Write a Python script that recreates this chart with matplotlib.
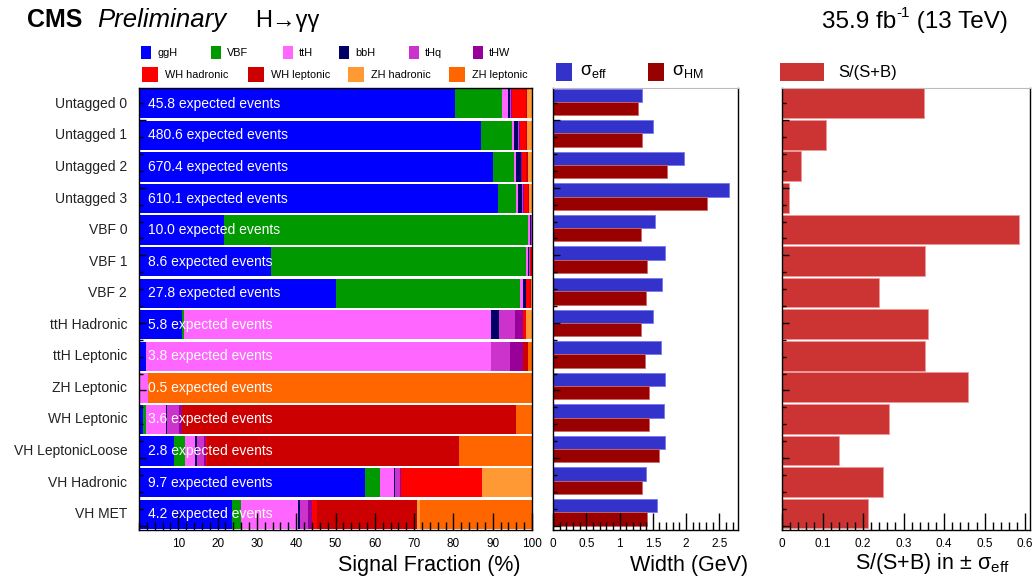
import numpy as np
import matplotlib.pyplot as plt
from matplotlib.patches import Rectangle

plt.rcParams['font.family'] = ['Liberation Sans', 'DejaVu Sans']
plt.rcParams['mathtext.fontset'] = 'custom'
plt.rcParams['mathtext.rm'] = 'Liberation Sans'
plt.rcParams['mathtext.it'] = 'Liberation Sans:italic'

categories = ['Untagged 0', 'Untagged 1', 'Untagged 2', 'Untagged 3',
              'VBF 0', 'VBF 1', 'VBF 2', 'ttH Hadronic', 'ttH Leptonic',
              'ZH Leptonic', 'WH Leptonic', 'VH LeptonicLoose', 'VH Hadronic', 'VH MET']
expected_events = ['45.8', '480.6', '670.4', '610.1', '10.0', '8.6', '27.8',
                   '5.8', '3.8', '0.5', '3.6', '2.8', '9.7', '4.2']

processes = ['ggH', 'VBF', 'ttH', 'bbH', 'tHq', 'tHW',
             'WH hadronic', 'WH leptonic', 'ZH hadronic', 'ZH leptonic']
proc_colors = ['#0000ff', '#009900', '#ff66ff', '#000066', '#cc33cc', '#990099',
               '#ff0000', '#cc0000', '#ff9933', '#ff6600']

# signal fraction (%) per process, one entry per category
ggH  = [80.4, 87.0, 90.1, 91.3, 21.6, 33.6, 50.1, 10.9, 1.7, 0.0, 0.9, 9.0, 57.5, 23.6]
vbf  = [11.9, 7.9, 5.3, 4.6, 77.5, 64.9, 46.9, 0.6, 0.0, 0.0, 0.8, 2.7, 3.7, 2.4]
ttH  = [1.7, 0.5, 0.6, 0.5, 0.3, 0.4, 0.7, 78.0, 87.9, 2.4, 5.2, 2.6, 3.7, 14.5]
bbH  = [0.4, 1.1, 1.1, 1.1, 0.3, 0.4, 0.7, 2.1, 0.0, 0.0, 0.3, 0.4, 0.2, 0.5]
tHq  = [0.3, 0.3, 0.2, 0.2, 0.2, 0.1, 0.1, 4.1, 4.9, 0.0, 3.0, 1.8, 1.3, 2.1]
tHW  = [0.3, 0.2, 0.2, 0.2, 0.1, 0.1, 0.1, 2.1, 3.1, 0.0, 0.8, 0.5, 0.3, 1.0]
wh_h = [3.4, 1.5, 1.1, 1.0, 0.1, 0.3, 0.9, 0.7, 0.0, 0.0, 0.0, 0.3, 20.7, 1.3]
wh_l = [0.3, 0.3, 0.5, 0.4, 0.0, 0.1, 0.2, 0.0, 1.5, 0.0, 84.9, 64.0, 0.0, 25.3]
zh_h = [1.2, 1.1, 0.8, 0.6, 0.1, 0.1, 0.3, 1.5, 0.0, 0.0, 0.0, 0.0, 12.3, 0.8]
zh_l = [0.1, 0.1, 0.1, 0.1, 0.0, 0.0, 0.0, 0.0, 0.9, 97.6, 4.1, 18.7, 0.3, 28.5]
fractions = [ggH, vbf, ttH, bbH, tHq, tHW, wh_h, wh_l, zh_h, zh_l]

# mass resolution (GeV)
sigma_eff = [1.34, 1.50, 1.97, 2.65, 1.54, 1.68, 1.64, 1.50, 1.63, 1.68, 1.67, 1.69, 1.40, 1.57]
sigma_hm  = [1.27, 1.34, 1.71, 2.31, 1.32, 1.41, 1.39, 1.32, 1.38, 1.45, 1.45, 1.59, 1.33, 1.41]

# S/(S+B) within +-sigma_eff
s_over_sb = [0.351, 0.109, 0.048, 0.018, 0.585, 0.354, 0.239, 0.360, 0.352,
             0.460, 0.265, 0.140, 0.250, 0.212]

W, H = 1035, 580
fx = lambda x: x / W
fy = lambda y: 1 - y / H

fig = plt.figure(figsize=(W / 100, H / 100), dpi=100)
bottom, height = fy(530), 442 / H
ax1 = fig.add_axes([fx(139), bottom, 393 / W, height])
ax2 = fig.add_axes([fx(553), bottom, 185 / W, height])
ax3 = fig.add_axes([fx(782), bottom, 248 / W, height])

y = np.arange(len(categories))

# stacked signal composition
left = np.zeros(len(categories))
for vals, col in zip(fractions, proc_colors):
    vals = np.array(vals)
    ax1.barh(y + 0.5, vals, left=left, height=0.93, color=col, linewidth=0)
    left += vals
for i, ev in enumerate(expected_events):
    ax1.text(2.2, i + 0.5, ev + ' expected events', color='white',
             va='center', ha='left', fontsize=10)
ax1.set_xlim(0, 100)
ax1.set_xticks(np.arange(10, 101, 10))
ax1.set_xticks(np.arange(0, 101, 2), minor=True)

# widths
ax2.barh(y + 0.23, sigma_eff, height=0.42, color='#3333cc', edgecolor='#7777ee', linewidth=0.6)
ax2.barh(y + 0.65, sigma_hm, height=0.42, color='#990000', edgecolor='#cc6666', linewidth=0.6)
ax2.set_xlim(0, 2.78)
ax2.set_xticks(np.arange(0, 2.6, 0.5))
ax2.set_xticklabels(['0', '0.5', '1', '1.5', '2', '2.5'])
ax2.set_xticks(np.arange(0, 2.78, 0.1), minor=True)

# S/(S+B)
ax3.barh(y + 0.48, s_over_sb, height=0.94, color='#cc3333', edgecolor='#ee9999', linewidth=0.6)
ax3.set_xlim(0, 0.612)
ax3.set_xticks(np.arange(0, 0.61, 0.1))
ax3.set_xticklabels(['0', '0.1', '0.2', '0.3', '0.4', '0.5', '0.6'])
ax3.set_xticks(np.arange(0, 0.612, 0.02), minor=True)

ytick_minor = np.arange(0.485, 14, 0.535)
for ax in (ax1, ax2, ax3):
    ax.set_ylim(14, 0)
    ax.set_yticks(ytick_minor[1::4])
    ax.set_yticks(ytick_minor, minor=True)
    ax.set_yticklabels([])
    ax.tick_params(axis='x', which='major', direction='in', length=12, width=1,
                   labelsize=8.5, pad=6, top=False)
    ax.tick_params(axis='x', which='minor', direction='in', length=6, width=1, top=False)
    ax.tick_params(axis='y', which='major', direction='in', length=5, width=1, right=False)
    ax.tick_params(axis='y', which='minor', direction='in', length=3, width=1, right=False)
    for s in ('left', 'bottom', 'right'):
        ax.spines[s].set_linewidth(1.0)
        ax.spines[s].set_color('black')
    ax.spines['top'].set_color('#bbbbbb')
    ax.spines['top'].set_linewidth(0.8)
ax1.spines['top'].set_color('black')
ax1.spines['top'].set_linewidth(1.0)

for i, cat in enumerate(categories):
    ax1.text(-0.03, i + 0.5, cat, transform=ax1.get_yaxis_transform(),
             ha='right', va='center', fontsize=10, color='#222222')

# axis titles
fig.text(fx(520), fy(565), 'Signal Fraction (%)', ha='right', va='center', fontsize=15.5)
fig.text(fx(748), fy(565), 'Width (GeV)', ha='right', va='center', fontsize=15.5)
fig.text(fx(1010), fy(563), 'S/(S+B) in $\\pm$ σ$_{\\rm eff}$', ha='right', va='center', fontsize=15.5)

# header
fig.text(fx(27), fy(27), 'CMS', ha='left', va='baseline', fontsize=18, fontweight='bold')
fig.text(fx(97), fy(27), 'Preliminary', ha='left', va='baseline', fontsize=18.5, style='italic')
fig.text(fx(255), fy(27), 'H→γγ', ha='left', va='baseline', fontsize=17)

# luminosity label built from pieces so the exponent keeps a plain hyphen
renderer = fig.canvas.get_renderer()
x_end = fx(1008)
t3 = fig.text(x_end, fy(28), ' (13 TeV)', ha='right', va='baseline', fontsize=17.5)
w3 = t3.get_window_extent(renderer).width / W
t2 = fig.text(x_end - w3, fy(17), '-1', ha='right', va='baseline', fontsize=11)
w2 = t2.get_window_extent(renderer).width / W
fig.text(x_end - w3 - w2, fy(28), '35.9 fb', ha='right', va='baseline', fontsize=17.5)

# process legend
row1_box = [141, 211, 283, 339, 409, 473]
row2_box = [142, 248, 348, 449]
for k in range(6):
    fig.add_artist(Rectangle((fx(row1_box[k]), fy(59)), 10 / W, 13 / H,
                             transform=fig.transFigure, facecolor=proc_colors[k],
                             edgecolor='none'))
    fig.text(fx(row1_box[k] + 16), fy(53), processes[k], ha='left', va='center', fontsize=7.8)
for k in range(4):
    fig.add_artist(Rectangle((fx(row2_box[k]), fy(82)), 16 / W, 15 / H,
                             transform=fig.transFigure, facecolor=proc_colors[6 + k],
                             edgecolor='none'))
    fig.text(fx(row2_box[k] + 23), fy(75), processes[6 + k], ha='left', va='center', fontsize=7.8)

# width legend
for bx, col, lab in [(556, '#3333cc', 'σ$_{\\rm eff}$'), (648, '#990000', 'σ$_{\\rm HM}$')]:
    fig.add_artist(Rectangle((fx(bx), fy(81)), 16 / W, 18 / H, transform=fig.transFigure,
                             facecolor=col, edgecolor='none'))
    fig.text(fx(bx + 24), fy(72), lab, ha='left', va='center', fontsize=13)

# S/(S+B) legend
fig.add_artist(Rectangle((fx(780), fy(81)), 44 / W, 18 / H, transform=fig.transFigure,
                         facecolor='#cc3333', edgecolor='none'))
fig.text(fx(838), fy(72), 'S/(S+B)', ha='left', va='center', fontsize=12)

fig.savefig('out.png', dpi=100)
